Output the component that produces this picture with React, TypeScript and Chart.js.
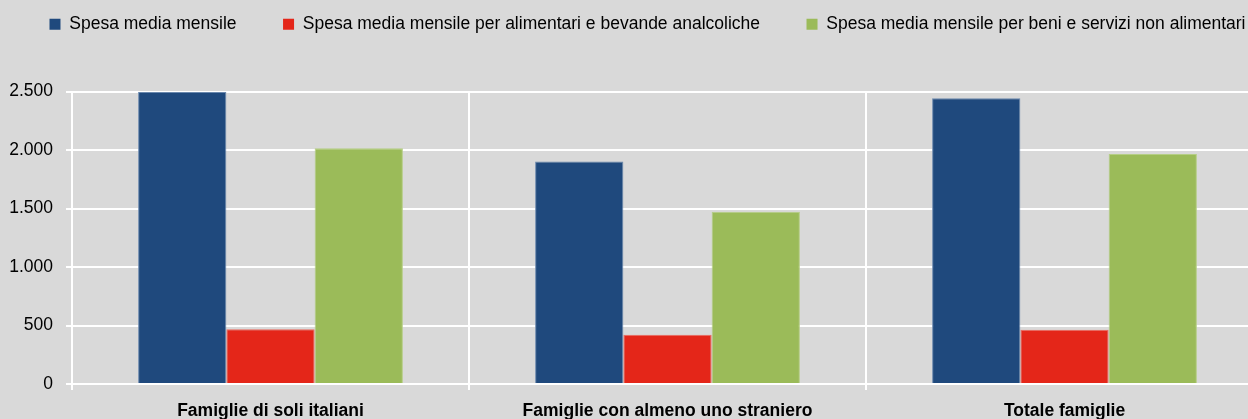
import React, { useEffect, useRef } from "react";
import { Chart, registerables } from "chart.js";

Chart.register(...registerables);

const categories = [
  "Famiglie di soli italiani",
  "Famiglie con almeno uno straniero",
  "Totale famiglie",
];
const seriesNames = [
  "Spesa media mensile",
  "Spesa media mensile per alimentari e bevande analcoliche",
  "Spesa media mensile per beni e servizi non alimentari",
];
const spesaTotale = [2495, 1902, 2443];
const spesaAlimentari = [467, 422, 463];
const spesaNonAlimentari = [2014, 1472, 1966];
const yTicks = [0, 500, 1000, 1500, 2000, 2500];

const FONT = "'Liberation Sans', Arial, sans-serif";
const LEGEND_CENTER = 647.5;

const fmt = (v: number) => String(v).replace(/\B(?=(\d{3})+(?!\d))/g, ".");

const legendFit = {
  id: "legendFit",
  beforeInit(chart: any) {
    const orig = chart.legend.fit;
    chart.legend.fit = function fit() {
      const mw = this.maxWidth;
      this.maxWidth = 5000;
      orig.call(this);
      this.maxWidth = mw;
      this.width = Math.min(this.width, mw);
      this.height += 48.5;
    };
  },
  afterLayout(chart: any) {
    const lg = chart.legend;
    if (!lg) return;
    lg.left = LEGEND_CENTER - 1000;
    lg.right = LEGEND_CENTER + 1000;
  },
};

const bgPlugin = {
  id: "bg",
  beforeDraw(chart: any) {
    const { ctx, width, height } = chart;
    ctx.save();
    ctx.fillStyle = "#D9D9D9";
    ctx.fillRect(0, 0, width, height);
    ctx.restore();
  },
};

export default function App() {
  const ref = useRef<HTMLCanvasElement | null>(null);
  useEffect(() => {
    if (!ref.current) return;
    const chart = new Chart(ref.current, {
      type: "bar",
      data: {
        labels: categories,
        datasets: [
          {
            label: seriesNames[0],
            data: spesaTotale,
            backgroundColor: "#1F497D",
            borderColor: "#6A88AE",
            borderWidth: 1,
          },
          {
            label: seriesNames[1],
            data: spesaAlimentari,
            backgroundColor: "#E42619",
            borderColor: "#EC6A5F",
            borderWidth: 1,
          },
          {
            label: seriesNames[2],
            data: spesaNonAlimentari,
            backgroundColor: "#9BBB59",
            borderColor: "#B5CE85",
            borderWidth: 1,
          },
        ],
      },
      options: {
        animation: false,
        responsive: false,
        maintainAspectRatio: false,
        layout: { padding: { left: 8, right: 17, top: 0, bottom: 2 } },
        datasets: { bar: { categoryPercentage: 0.667, barPercentage: 1 } },
        plugins: {
          legend: {
            position: "top",
            labels: {
              boxWidth: 11,
              boxHeight: 11,
              padding: 46.5,
              color: "#000",
              font: { family: FONT, size: 17.5 },
              generateLabels: (chart: any) =>
                chart.data.datasets.map((d: any, i: number) => ({
                  text: d.label,
                  fillStyle: d.backgroundColor,
                  strokeStyle: d.backgroundColor,
                  lineWidth: 0,
                  hidden: false,
                  datasetIndex: i,
                  fontColor: "#000",
                })),
            },
          },
          tooltip: { enabled: false },
        },
        scales: {
          x: {
            grid: { color: "#FFFFFF", lineWidth: 2, offset: true, tickLength: 6 },
            border: { color: "#FFFFFF", width: 2 },
            ticks: {
              color: "#000",
              padding: 11,
              font: { family: FONT, size: 17.5, weight: "bold" },
            },
          },
          y: {
            min: 0,
            max: 2500,
            afterBuildTicks: (axis: any) => {
              axis.ticks = yTicks.map((v) => ({ value: v }));
            },
            afterFit: (axis: any) => {
              axis.width = 64;
            },
            grid: { color: "#FFFFFF", lineWidth: 2, tickLength: 6 },
            border: { color: "#FFFFFF", width: 2 },
            ticks: {
              color: "#000",
              padding: 13,
              font: { family: FONT, size: 17.5 },
              callback: (v: any) => fmt(Number(v)),
            },
          },
        },
      } as any,
      plugins: [legendFit, bgPlugin],
    });
    return () => chart.destroy();
  }, []);
  return (
    <div
      style={{
        position: "fixed",
        left: 0,
        top: 0,
        width: 1248,
        height: 419,
        overflow: "hidden",
        background: "#D9D9D9",
      }}
    >
      <canvas
        ref={ref}
        width={1280}
        height={466}
        style={{ display: "block", position: "absolute", left: 0, top: -31 }}
      />
    </div>
  );
}
